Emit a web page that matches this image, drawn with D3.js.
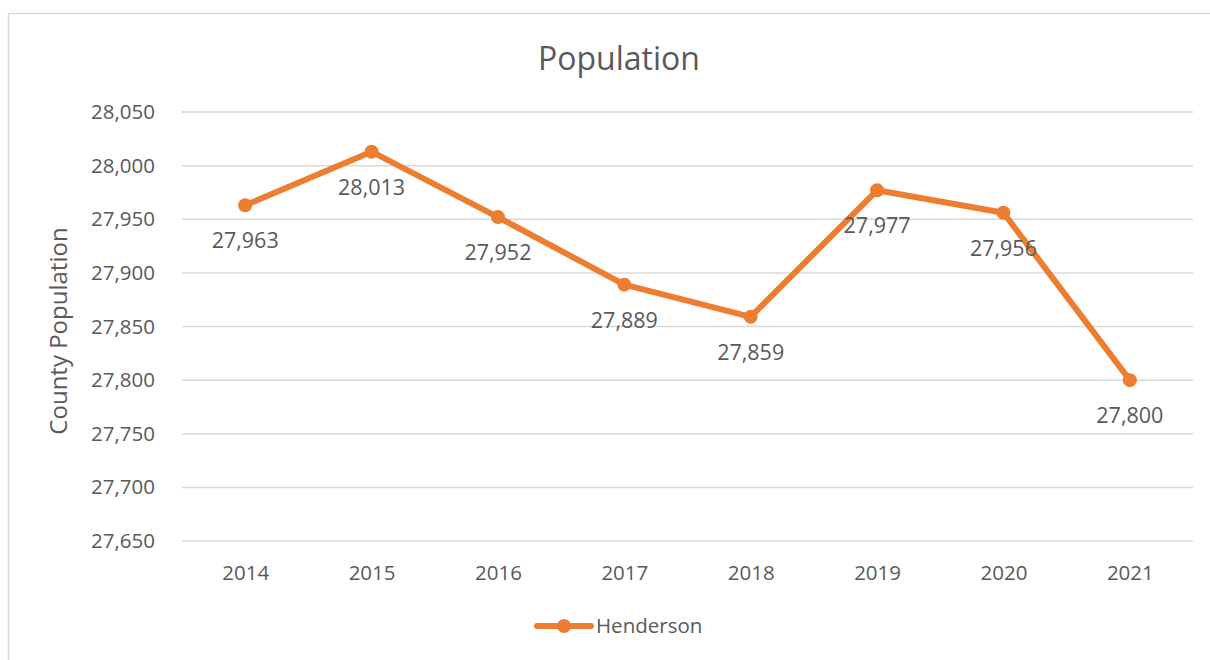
<!DOCTYPE html>
<html>
<head>
<meta charset="utf-8">
<script src="https://cdn.jsdelivr.net/npm/d3@7"></script>
<style>
  html, body { margin: 0; padding: 0; background: #fff; }
  svg { display: block; }
  text { font-family: "Open Sans", "Liberation Sans", sans-serif; fill: #595959; }
</style>
</head>
<body>
<svg id="chart" width="1210" height="660"></svg>
<script>
// Henderson County population by year
const years = ["2014", "2015", "2016", "2017", "2018", "2019", "2020", "2021"];
const population = [27963, 28013, 27952, 27889, 27859, 27977, 27956, 27800];
const yTicks = [27650, 27700, 27750, 27800, 27850, 27900, 27950, 28000, 28050];
const seriesName = "Henderson";

const color = "#ED7D31";
const svg = d3.select("#chart");

// chart frame
svg.append("path")
  .attr("d", "M8.5,660 L8.5,13.5 L1210,13.5")
  .attr("fill", "none")
  .attr("stroke", "#d9d9d9")
  .attr("stroke-width", 1.5);

const plot = { left: 182, right: 1193, top: 112, bottom: 541 };

const x = d3.scalePoint().domain(years).range([plot.left, plot.right]).padding(0.5);
const y = d3.scaleLinear().domain([27650, 28050]).range([plot.bottom, plot.top]);

// gridlines
svg.append("g")
  .selectAll("line")
  .data(yTicks)
  .join("line")
  .attr("x1", plot.left).attr("x2", plot.right)
  .attr("y1", d => y(d)).attr("y2", d => y(d))
  .attr("stroke", "#d9d9d9")
  .attr("stroke-width", 1.5);

// y axis labels
const fmt = d3.format(",");
const yAxis = d3.axisLeft(y).tickValues(yTicks).tickFormat(fmt).tickSize(0).tickPadding(0);
const gy = svg.append("g").attr("transform", `translate(${plot.left - 27},0)`).call(yAxis);
gy.select(".domain").remove();
gy.selectAll("text").attr("font-size", 20.5).attr("fill", "#595959")
  .style("font-family", "'Open Sans', sans-serif");

// x axis labels
const xAxis = d3.axisBottom(x).tickSize(0).tickPadding(0);
const gx = svg.append("g").attr("transform", `translate(0,${plot.bottom + 39})`).call(xAxis);
gx.select(".domain").remove();
gx.selectAll("text").attr("font-size", 20.5).attr("fill", "#595959")
  .attr("y", 0).attr("dy", 0)
  .style("font-family", "'Open Sans', sans-serif");

// title
svg.append("text")
  .attr("x", 619).attr("y", 70)
  .attr("text-anchor", "middle")
  .attr("font-size", 32)
  .text("Population");

// y axis title
svg.append("text")
  .attr("transform", "translate(67,331) rotate(-90)")
  .attr("text-anchor", "middle")
  .attr("font-size", 24)
  .text("County Population");

const pts = years.map((yr, i) => ({ yr, v: population[i] }));

// series line
svg.append("path")
  .datum(pts)
  .attr("fill", "none")
  .attr("stroke", color)
  .attr("stroke-width", 6)
  .attr("stroke-linejoin", "round")
  .attr("stroke-linecap", "round")
  .attr("d", d3.line().x(d => x(d.yr)).y(d => y(d.v)));

// markers
svg.append("g")
  .selectAll("circle")
  .data(pts)
  .join("circle")
  .attr("cx", d => x(d.yr))
  .attr("cy", d => y(d.v))
  .attr("r", 7)
  .attr("fill", color);

// value labels
svg.append("g")
  .selectAll("text")
  .data(pts)
  .join("text")
  .attr("x", d => x(d.yr))
  .attr("y", d => y(d.v) + 43)
  .attr("text-anchor", "middle")
  .attr("font-size", 21.5)
  .attr("fill", "#404040")
  .text(d => fmt(d.v));

// legend
const lg = svg.append("g").attr("transform", "translate(537,626)");
lg.append("line")
  .attr("x1", 0).attr("x2", 54)
  .attr("stroke", color).attr("stroke-width", 6).attr("stroke-linecap", "round");
lg.append("circle").attr("cx", 27).attr("r", 7).attr("fill", color);
lg.append("text")
  .attr("x", 59).attr("y", 7)
  .attr("font-size", 20.5)
  .text(seriesName);
</script>
</body>
</html>
